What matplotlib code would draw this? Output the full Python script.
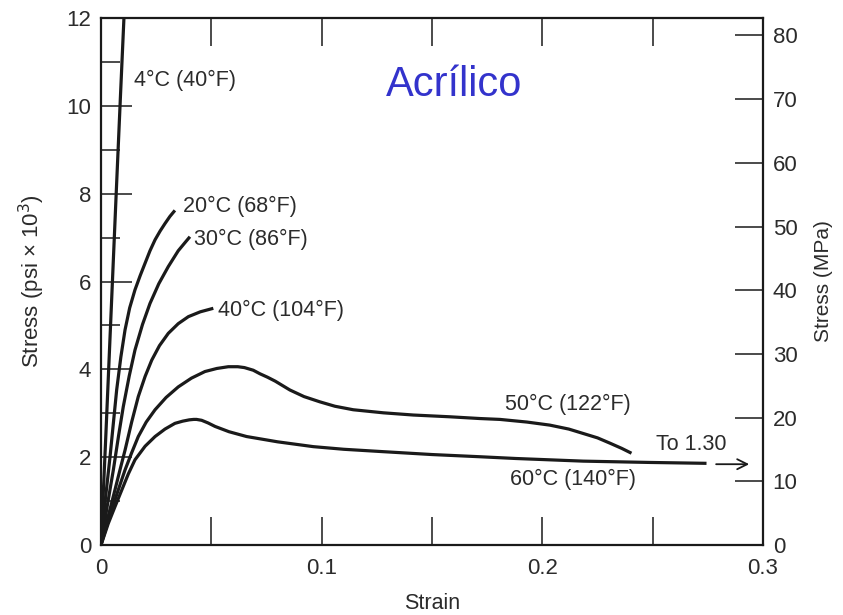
import matplotlib
matplotlib.use("Agg")
import matplotlib.pyplot as plt
from matplotlib.ticker import MultipleLocator

plt.rcParams['font.family'] = ['Liberation Sans', 'DejaVu Sans']

# strain / stress (psi x 10^3)
strain_4c = [0, 0.0022, 0.0045, 0.0068, 0.0088, 0.0104, 0.0108]
stress_4c = [0, 2.5, 5.2, 7.9, 10.2, 12.0, 12.5]

strain_20c = [0, 0.0020, 0.0041, 0.0071, 0.0090, 0.0109, 0.0130, 0.0154, 0.0178,
              0.0200, 0.0222, 0.0245, 0.0268, 0.0290, 0.0312, 0.0335]
stress_20c = [0, 1.05, 2.01, 3.53, 4.28, 4.90, 5.40, 5.81, 6.14,
              6.42, 6.70, 6.95, 7.15, 7.32, 7.48, 7.62]

strain_30c = [0, 0.0028, 0.0056, 0.0080, 0.0101, 0.0128, 0.0154, 0.0188, 0.0222,
              0.0262, 0.0305, 0.0350, 0.0378, 0.0403]
stress_30c = [0, 0.88, 1.71, 2.50, 3.15, 3.85, 4.44, 5.02, 5.50,
              5.95, 6.34, 6.70, 6.87, 7.02]

strain_40c = [0, 0.0032, 0.0063, 0.0086, 0.0109, 0.0139, 0.0169, 0.0200, 0.0230,
              0.0265, 0.0305, 0.0350, 0.0396, 0.0450, 0.0509]
stress_40c = [0, 0.64, 1.25, 1.71, 2.16, 2.80, 3.38, 3.84, 4.21,
              4.54, 4.82, 5.04, 5.20, 5.31, 5.39]

strain_50c = [0, 0.0048, 0.0080, 0.0109, 0.0139, 0.0169, 0.0205, 0.0245, 0.0295,
              0.0350, 0.0410, 0.0471, 0.0525, 0.0577, 0.0620, 0.0650, 0.0690,
              0.0720, 0.0755, 0.0790, 0.0823, 0.0856, 0.0920, 0.0992, 0.1060,
              0.1143, 0.1280, 0.1415, 0.1580, 0.1717, 0.1808, 0.1930, 0.2034,
              0.2120, 0.2185, 0.2250, 0.2306, 0.2360, 0.2404]
stress_50c = [0, 0.80, 1.28, 1.71, 2.10, 2.47, 2.80, 3.08, 3.36,
              3.60, 3.80, 3.95, 4.02, 4.06, 4.06, 4.04, 3.98,
              3.90, 3.82, 3.73, 3.63, 3.53, 3.38, 3.26, 3.16,
              3.08, 3.01, 2.96, 2.92, 2.88, 2.86, 2.80, 2.73,
              2.64, 2.54, 2.44, 2.32, 2.20, 2.09]

strain_60c = [0, 0.0033, 0.0064, 0.0094, 0.0124, 0.0154, 0.0200, 0.0245, 0.0290,
              0.0335, 0.0370, 0.0400, 0.0420, 0.0433, 0.0456, 0.0485, 0.0517,
              0.0580, 0.0660, 0.0800, 0.0962, 0.1100, 0.1264, 0.1500, 0.1717,
              0.1880, 0.2185, 0.2488, 0.2744]
stress_60c = [0, 0.49, 0.88, 1.25, 1.62, 1.94, 2.25, 2.47, 2.64,
              2.77, 2.82, 2.85, 2.86, 2.86, 2.84, 2.78, 2.70,
              2.58, 2.47, 2.35, 2.24, 2.18, 2.13, 2.06, 2.01,
              1.97, 1.91, 1.88, 1.86]

curve_labels = ['4°C (40°F)', '20°C (68°F)', '30°C (86°F)', '40°C (104°F)',
                '50°C (122°F)', '60°C (140°F)']
label_x = [0.0150, 0.0372, 0.0421, 0.0530, 0.2114, 0.2141]
label_y = [10.59, 7.72, 6.95, 5.35, 3.19, 1.50]
label_ha = ['left', 'left', 'left', 'left', 'center', 'center']

psi_to_mpa = 6.895

ink = '#1a1a1a'
txt = '#2b2b2b'

fig = plt.figure(figsize=(8.43, 6.15), dpi=100)
ax = fig.add_axes([0.1198, 0.1138, 0.7853, 0.8569])

curves = [(strain_4c, stress_4c), (strain_20c, stress_20c), (strain_30c, stress_30c),
          (strain_40c, stress_40c), (strain_50c, stress_50c), (strain_60c, stress_60c)]
for xs, ys in curves:
    ax.plot(xs, ys, color=ink, lw=2.3, solid_capstyle='butt', solid_joinstyle='round')

for lab, lx, ly, ha in zip(curve_labels, label_x, label_y, label_ha):
    ax.text(lx, ly, lab, ha=ha, va='center', fontsize=15.5, color=txt)

# arrow for the 60C curve that continues off the chart
ax.annotate('', xy=(0.2950, 1.84), xytext=(0.2775, 1.84),
            arrowprops=dict(arrowstyle='->', color=ink, lw=1.3, mutation_scale=18))
ax.text(0.2673, 2.28, 'To 1.30', ha='center', va='center', fontsize=15.5, color=txt)

ax.text(0.160, 10.48, 'Acrílico', ha='center', va='center', fontsize=30, color='#3333cc')

ax.set_xlim(0, 0.3)
ax.set_ylim(0, 12)
ax.set_xticks([0, 0.1, 0.2, 0.3])
ax.set_xticklabels(['0', '0.1', '0.2', '0.3'])
ax.xaxis.set_minor_locator(MultipleLocator(0.05))
ax.yaxis.set_major_locator(MultipleLocator(2))
ax.yaxis.set_minor_locator(MultipleLocator(1))

ax.tick_params(axis='x', which='both', direction='in', length=20, width=1.1,
               top=True, labelsize=16, labelcolor=txt, color=ink, pad=9.5)
ax.tick_params(axis='y', which='major', direction='in', length=22, width=1.1,
               labelsize=16, labelcolor=txt, color=ink, pad=7)
ax.tick_params(axis='y', which='minor', direction='in', length=14, width=1.1, color=ink)
ax.tick_params(axis='y', right=False)
for sp in ax.spines.values():
    sp.set_linewidth(1.6)
    sp.set_color(ink)

ax.set_xlabel('Strain', fontsize=15.5, color=txt, labelpad=10)
ax.set_ylabel('Stress (psi × 10$^3$)', fontsize=16, color=txt, labelpad=14)

ax2 = ax.twinx()
ax2.set_ylim(0, 12 * psi_to_mpa)
ax2.yaxis.set_major_locator(MultipleLocator(10))
ax2.tick_params(axis='y', direction='in', length=20, width=1.1, labelsize=16,
                labelcolor=txt, color=ink, pad=7)
for sp in ax2.spines.values():
    sp.set_visible(False)
ax2.set_ylabel('Stress (MPa)', fontsize=15, color=txt, labelpad=12)

fig.savefig('out.png', dpi=100)
